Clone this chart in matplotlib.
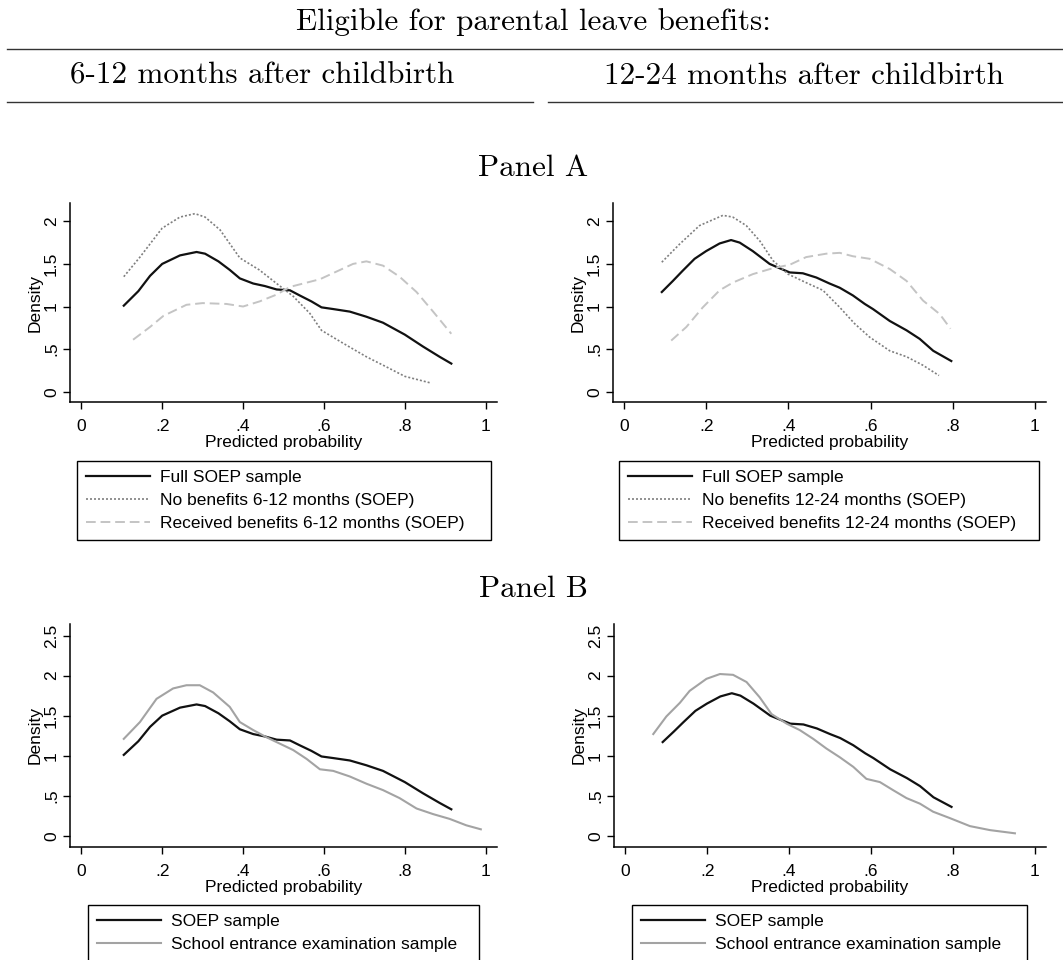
import matplotlib
matplotlib.use("Agg")
import matplotlib.pyplot as plt
from matplotlib.lines import Line2D

plt.rcParams["font.family"] = ["Liberation Sans", "DejaVu Sans"]
plt.rcParams["font.size"] = 12.5

# ---- data ----
# Panel A, 6-12 months
full_612_x = [0.105, 0.141, 0.17, 0.2, 0.244, 0.285, 0.306, 0.339, 0.367, 0.392, 0.425, 0.454,
              0.483, 0.516, 0.54, 0.569, 0.594, 0.623, 0.664, 0.705, 0.746, 0.8, 0.845, 0.886, 0.915]
full_612_y = [1.01, 1.18, 1.36, 1.5, 1.6, 1.64, 1.62, 1.53, 1.43, 1.33, 1.27, 1.24,
              1.2, 1.19, 1.13, 1.06, 0.99, 0.97, 0.94, 0.88, 0.81, 0.67, 0.53, 0.41, 0.33]
nob_612_x = [0.105, 0.145, 0.2, 0.244, 0.281, 0.306, 0.343, 0.392, 0.44, 0.483, 0.524, 0.565,
             0.594, 0.647, 0.705, 0.755, 0.8, 0.866]
nob_612_y = [1.35, 1.58, 1.92, 2.05, 2.09, 2.05, 1.9, 1.57, 1.43, 1.27, 1.12, 0.92,
             0.72, 0.57, 0.41, 0.29, 0.18, 0.1]
rec_612_x = [0.128, 0.17, 0.203, 0.26, 0.3, 0.359, 0.4, 0.441, 0.483, 0.516, 0.557, 0.59,
             0.631, 0.672, 0.705, 0.746, 0.787, 0.829, 0.87, 0.915]
rec_612_y = [0.61, 0.76, 0.89, 1.02, 1.04, 1.03, 1.0, 1.06, 1.14, 1.23, 1.28, 1.32,
             1.41, 1.5, 1.53, 1.48, 1.35, 1.17, 0.94, 0.68]

# Panel A, 12-24 months
full_1224_x = [0.091, 0.118, 0.142, 0.171, 0.199, 0.232, 0.26, 0.281, 0.313, 0.354, 0.378, 0.403,
               0.435, 0.468, 0.5, 0.525, 0.557, 0.586, 0.606, 0.647, 0.688, 0.72, 0.753, 0.797]
full_1224_y = [1.17, 1.3, 1.42, 1.56, 1.65, 1.74, 1.78, 1.75, 1.65, 1.5, 1.45, 1.4,
               1.39, 1.34, 1.27, 1.22, 1.13, 1.03, 0.97, 0.83, 0.72, 0.62, 0.48, 0.36]
nob_1224_x = [0.091, 0.134, 0.183, 0.24, 0.264, 0.297, 0.33, 0.362, 0.399, 0.443, 0.484, 0.525,
              0.561, 0.598, 0.647, 0.688, 0.728, 0.767]
nob_1224_y = [1.52, 1.73, 1.95, 2.07, 2.05, 1.95, 1.77, 1.54, 1.38, 1.28, 1.19, 0.99,
              0.8, 0.64, 0.48, 0.41, 0.31, 0.19]
rec_1224_x = [0.114, 0.151, 0.191, 0.232, 0.264, 0.313, 0.362, 0.403, 0.443, 0.492, 0.525, 0.557,
              0.598, 0.647, 0.688, 0.728, 0.769, 0.795]
rec_1224_y = [0.6, 0.76, 0.99, 1.19, 1.28, 1.38, 1.45, 1.49, 1.58, 1.62, 1.63, 1.59,
              1.56, 1.44, 1.3, 1.07, 0.91, 0.74]

# Panel B, school entrance examination sample
school_612_x = [0.105, 0.145, 0.186, 0.227, 0.26, 0.293, 0.326, 0.367, 0.392, 0.425, 0.458, 0.491,
                0.524, 0.557, 0.59, 0.623, 0.664, 0.705, 0.746, 0.787, 0.829, 0.87, 0.911, 0.952, 0.988]
school_612_y = [1.21, 1.42, 1.71, 1.84, 1.88, 1.88, 1.79, 1.61, 1.42, 1.32, 1.23, 1.15,
                1.07, 0.96, 0.83, 0.81, 0.74, 0.65, 0.57, 0.47, 0.34, 0.27, 0.21, 0.13, 0.08]
school_1224_x = [0.068, 0.1, 0.133, 0.157, 0.198, 0.231, 0.263, 0.296, 0.328, 0.357, 0.394, 0.426,
                 0.459, 0.491, 0.524, 0.557, 0.589, 0.622, 0.654, 0.687, 0.72, 0.752, 0.793,
                 0.842, 0.891, 0.952]
school_1224_y = [1.27, 1.49, 1.66, 1.81, 1.96, 2.02, 2.01, 1.92, 1.73, 1.52, 1.4, 1.32,
                 1.21, 1.09, 0.98, 0.86, 0.71, 0.67, 0.57, 0.47, 0.4, 0.3, 0.22,
                 0.12, 0.07, 0.03]

x_ticks = [0, 0.2, 0.4, 0.6, 0.8, 1]
x_ticklabels = ["0", ".2", ".4", ".6", ".8", "1"]
yA_ticks = [0, 0.5, 1, 1.5, 2]
yA_ticklabels = ["0", ".5", "1", "1.5", "2"]
yB_ticks = [0, 0.5, 1, 1.5, 2, 2.5]
yB_ticklabels = ["0", ".5", "1", "1.5", "2", "2.5"]

W, H = 1063, 960
fig = plt.figure(figsize=(W / 100, H / 100), dpi=100)


def px_axes(left, right, top, bottom):
    return fig.add_axes([left / W, 1 - bottom / H, (right - left) / W, (bottom - top) / H])


def style(ax, yticks, yticklabels, ylim):
    ax.set_xlim(-0.028, 1.028)
    ax.set_ylim(*ylim)
    ax.spines["top"].set_visible(False)
    ax.spines["right"].set_visible(False)
    for s in ("left", "bottom"):
        ax.spines[s].set_linewidth(1.1)
    ax.set_xticks(x_ticks)
    ax.set_xticklabels(x_ticklabels)
    ax.set_yticks(yticks)
    ax.set_yticklabels(yticklabels, rotation=90, va="center")
    ax.tick_params(direction="out", length=5, width=1.0, labelsize=12.5)
    ax.tick_params(axis="x", pad=7)
    ax.tick_params(axis="y", pad=3)
    ax.set_xlabel("Predicted probability", fontsize=12.5, labelpad=1)
    ax.set_ylabel("Density", fontsize=12.5, labelpad=1)


def add_legend(ax, box, handle_len):
    l, r, t = box
    leg = fig.legend(handles=ax.get_lines(), loc="upper left",
                     bbox_to_anchor=(l / W, 0, (r - l) / W, 1 - t / H), mode="expand",
                     frameon=True, fancybox=False, framealpha=1, edgecolor="black",
                     fontsize=12.5, handlelength=handle_len, handletextpad=0.55,
                     labelspacing=0.45, borderpad=0.52, borderaxespad=0)
    leg.get_frame().set_linewidth(1.0)


ylimA = (-0.121, 2.215)
ylimB = (-0.141, 2.645)
black = "#111111"
dotted = (0, (1.2, 1.2))
dashed = (0, (5, 2.5))

# Panel A left
ax1 = px_axes(70, 497, 203, 402)
ax1.plot(full_612_x, full_612_y, color=black, lw=1.6, label="Full SOEP sample")
ax1.plot(nob_612_x, nob_612_y, color="#7f7f7f", lw=1.2, ls=dotted, label="No benefits 6-12 months (SOEP)")
ax1.plot(rec_612_x, rec_612_y, color="#c4c4c4", lw=1.4, ls=dashed, label="Received benefits 6-12 months (SOEP)")
style(ax1, yA_ticks, yA_ticklabels, ylimA)
add_legend(ax1, (77, 491, 461), 3.7)

# Panel A right
ax2 = px_axes(613, 1046, 203, 402)
ax2.plot(full_1224_x, full_1224_y, color=black, lw=1.6, label="Full SOEP sample")
ax2.plot(nob_1224_x, nob_1224_y, color="#7f7f7f", lw=1.2, ls=dotted, label="No benefits 12-24 months (SOEP)")
ax2.plot(rec_1224_x, rec_1224_y, color="#c4c4c4", lw=1.4, ls=dashed, label="Received benefits 12-24 months (SOEP)")
style(ax2, yA_ticks, yA_ticklabels, ylimA)
add_legend(ax2, (619, 1039, 461), 3.7)

# Panel B left
ax3 = px_axes(70, 497, 624, 847)
ax3.plot(full_612_x, full_612_y, color=black, lw=1.6, label="SOEP sample")
ax3.plot(school_612_x, school_612_y, color="#a3a3a3", lw=1.5, label="School entrance examination sample")
style(ax3, yB_ticks, yB_ticklabels, ylimB)
add_legend(ax3, (88, 479, 905), 3.7)

# Panel B right
ax4 = px_axes(614, 1046, 624, 847)
ax4.plot(full_1224_x, full_1224_y, color=black, lw=1.6, label="SOEP sample")
ax4.plot(school_1224_x, school_1224_y, color="#a3a3a3", lw=1.5, label="School entrance examination sample")
style(ax4, yB_ticks, yB_ticklabels, ylimB)
add_legend(ax4, (632, 1027, 905), 3.7)

# header text and rules
serif = ["cmr10", "DejaVu Serif"]
hsize = 22.4
fig.text(533 / W, 1 - 22 / H, "Eligible for parental leave benefits:", family=serif, fontsize=hsize,
         ha="center", va="center")
fig.text(262 / W, 1 - 76 / H, "6-12 months after childbirth", family=serif, fontsize=hsize,
         ha="center", va="center")
fig.text(804 / W, 1 - 76 / H, "12-24 months after childbirth", family=serif, fontsize=hsize,
         ha="center", va="center")
fig.text(533 / W, 1 - 168 / H, "Panel A", family=serif, fontsize=hsize, ha="center", va="center")
fig.text(533 / W, 1 - 589 / H, "Panel B", family=serif, fontsize=hsize, ha="center", va="center")

for x0, x1, y in [(7, 1063, 49), (7, 533, 102), (548, 1063, 102)]:
    fig.add_artist(Line2D([x0 / W, x1 / W], [1 - y / H, 1 - y / H], transform=fig.transFigure,
                          color="#333333", lw=1.0))

fig.savefig("out.png", dpi=100)
